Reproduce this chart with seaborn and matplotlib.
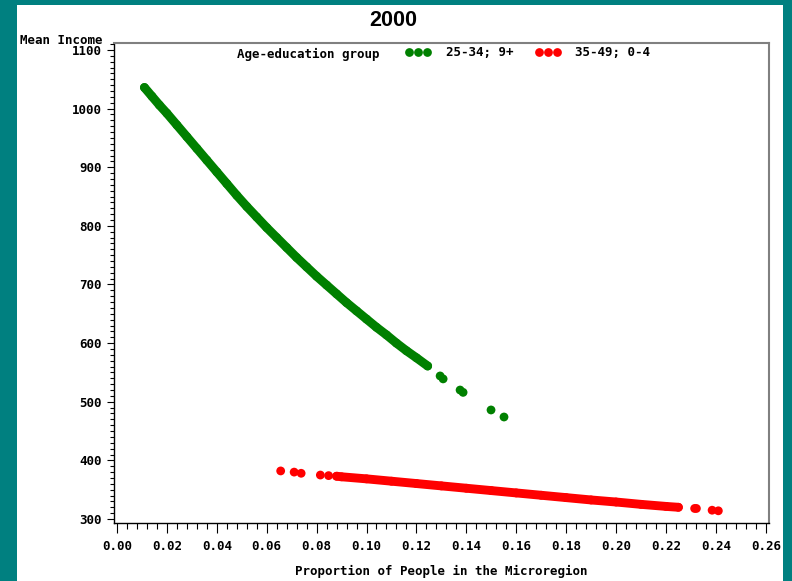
import matplotlib
matplotlib.use("Agg")
import matplotlib.pyplot as plt
from matplotlib import font_manager as fm
from matplotlib.patches import Rectangle
from matplotlib.lines import Line2D
from matplotlib.ticker import MultipleLocator, FormatStrFormatter
import pandas as pd
import seaborn as sns

# ---------------- data ----------------
groups = ["25-34; 9+", "35-49; 0-4"]
colors = ["#008000", "#FF0000"]

green_band_x = [0.011, 0.014, 0.017, 0.020, 0.024, 0.028, 0.032, 0.036, 0.040, 0.044,
                0.048, 0.052, 0.056, 0.060, 0.064, 0.068, 0.072, 0.076, 0.080, 0.084,
                0.088, 0.092, 0.096, 0.100, 0.104, 0.108, 0.112, 0.116, 0.120, 0.1245]
green_band_y = [1036, 1021, 1006, 992, 972, 952, 932, 912, 892, 872,
                852, 833, 815, 797, 780, 763, 746, 730, 714, 699,
                684, 669, 655, 641, 627, 614, 600, 587, 575, 561]
green_dots_x = [0.1295, 0.1307, 0.1375, 0.1387, 0.1499, 0.1551]
green_dots_y = [544, 539, 520, 516, 486, 474]

red_band_x = [0.088, 0.090, 0.100, 0.110, 0.120, 0.130, 0.140, 0.150, 0.160, 0.170,
              0.180, 0.190, 0.200, 0.210, 0.220, 0.225]
red_band_y = [373, 372, 368.5, 364.5, 360.5, 356.5, 352.5, 348.5, 344.5, 340.5,
              336.5, 332.5, 329, 325, 321.5, 320]
red_dots_x = [0.0656, 0.0710, 0.0738, 0.0815, 0.0848, 0.2315, 0.2322, 0.2385, 0.2410]
red_dots_y = [382, 380, 378, 375, 374, 318, 318, 315, 314]

x_ticks = [0.00, 0.02, 0.04, 0.06, 0.08, 0.10, 0.12, 0.14, 0.16, 0.18, 0.20, 0.22, 0.24, 0.26]
y_ticks = [300, 400, 500, 600, 700, 800, 900, 1000, 1100]

title = "2000"
y_title = "Mean Income"
x_title = "Proportion of People in the Microregion"
legend_title = "Age-education group"

# ---------------- tables ----------------
bands = pd.DataFrame({
    "x": green_band_x + red_band_x,
    "y": green_band_y + red_band_y,
    "group": [groups[0]] * len(green_band_x) + [groups[1]] * len(red_band_x),
})
points = pd.DataFrame({
    "x": green_band_x + green_dots_x + red_band_x + red_dots_x,
    "y": green_band_y + green_dots_y + red_band_y + red_dots_y,
    "group": [groups[0]] * (len(green_band_x) + len(green_dots_x))
             + [groups[1]] * (len(red_band_x) + len(red_dots_x)),
})
palette = dict(zip(groups, colors))

# ---------------- style ----------------
sns.set_style("white")
plt.rcParams["font.family"] = ["DejaVu Sans Mono", "DejaVu Sans"]
plt.rcParams["text.color"] = "black"
plt.rcParams["xtick.color"] = "black"
plt.rcParams["ytick.color"] = "black"
plt.rcParams["axes.labelcolor"] = "black"
W, H = 792, 581

# title font: regular-width Liberation Sans Bold (Arial metric clone)
title_font = None
for f in fm.fontManager.ttflist:
    fname = f.fname.replace("\\", "/").split("/")[-1]
    if fname.lower() == "liberationsans-bold.ttf":
        title_font = fm.FontProperties(fname=f.fname, size=15.5)
        break
if title_font is None:
    title_font = fm.FontProperties(family=["Liberation Sans", "DejaVu Sans"],
                                   weight="bold", stretch="normal", size=15.5)

fig = plt.figure(figsize=(W / 100, H / 100), dpi=100, facecolor="#008080")
fig.patches.append(Rectangle((17 / W, 0), (783 - 17) / W, 1 - 5 / H,
                             transform=fig.transFigure, facecolor="white",
                             edgecolor="none", zorder=-1))
ax = fig.add_axes([114 / W, 1 - 523 / H, 655 / W, 480 / H])
ax.set_facecolor("white")

sns.lineplot(data=bands, x="x", y="y", hue="group", palette=palette,
             estimator=None, sort=False, linewidth=6.4, legend=False, ax=ax,
             solid_capstyle="round")
sns.scatterplot(data=points, x="x", y="y", hue="group", palette=palette,
                s=40, linewidth=0, legend=False, ax=ax, zorder=3)

ax.set_xlim(-0.0012, 0.2613)
ax.set_ylim(293.2, 1111.9)
ax.set_xlabel("")
ax.set_ylabel("")

ax.set_xticks(x_ticks)
ax.set_yticks(y_ticks)
ax.xaxis.set_major_formatter(FormatStrFormatter("%.2f"))
ax.xaxis.set_minor_locator(MultipleLocator(0.004))
ax.yaxis.set_minor_locator(MultipleLocator(10))

ax.tick_params(axis="both", which="both", bottom=True, left=True, top=False, right=False,
               direction="out", color="black", labelcolor="black", width=0.8)
ax.tick_params(axis="x", which="major", length=7, pad=5.4, labelsize=9)
ax.tick_params(axis="x", which="minor", length=4)
ax.tick_params(axis="y", which="major", length=5, pad=3.6, labelsize=9)
ax.tick_params(axis="y", which="minor", length=3)
for lab in ax.get_xticklabels() + ax.get_yticklabels():
    lab.set_fontweight("bold")

for side in ["left", "bottom"]:
    ax.spines[side].set_color("black")
    ax.spines[side].set_linewidth(1.0)
for side in ["top", "right"]:
    ax.spines[side].set_color("#808080")
    ax.spines[side].set_linewidth(1.5)

# ---------------- texts ----------------
fig.text(393 / W, 1 - 21 / H, title, ha="center", va="center", color="black",
         fontproperties=title_font)
fig.text(20 / W, 1 - 40 / H, y_title, ha="left", va="center", color="black",
         fontsize=9, fontweight="bold")
fig.text(441 / W, 1 - 571 / H, x_title, ha="center", va="center", color="black",
         fontsize=9, fontweight="bold")
fig.text(237 / W, 1 - 54 / H, legend_title, ha="left", va="center", color="black",
         fontsize=9, fontweight="bold")

handles = [Line2D([], [], marker="o", ls="", color=c, markersize=6.3,
                  markeredgewidth=0) for c in colors]
leg = ax.legend(handles, groups, ncol=2, numpoints=3, handlelength=2.04,
                handletextpad=1.2, columnspacing=1.75, frameon=False,
                loc="center left", bbox_to_anchor=(405 / W, 1 - 53 / H),
                bbox_transform=fig.transFigure, borderpad=0, borderaxespad=0,
                prop={"weight": "bold", "size": 9})
for t in leg.get_texts():
    t.set_color("black")

fig.savefig("out.png", dpi=100, facecolor=fig.get_facecolor())
